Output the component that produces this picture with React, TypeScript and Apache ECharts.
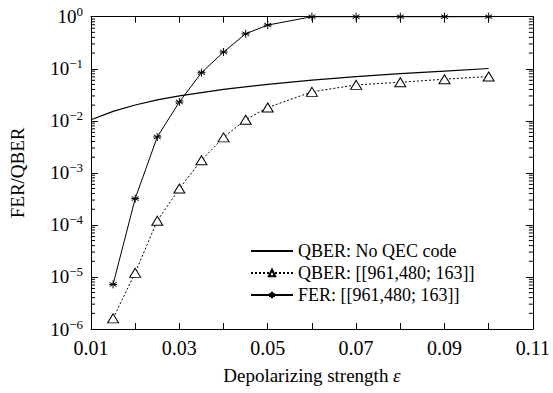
import React, { useEffect, useRef } from "react";
import * as echarts from "echarts";

const xTicks = [0.01, 0.02, 0.03, 0.04, 0.05, 0.06, 0.07, 0.08, 0.09, 0.1, 0.11];
const legendNames = ["QBER: No QEC code", "QBER: [[961,480; 163]]", "FER: [[961,480; 163]]"];

const noQecX = [0.01, 0.015, 0.02, 0.025, 0.03, 0.04, 0.05, 0.06, 0.07, 0.08, 0.09, 0.1];
const noQecY = [0.0105, 0.0152, 0.0201, 0.0252, 0.0302, 0.0402, 0.0503, 0.0603, 0.0703, 0.0803, 0.0902, 0.101];

const codeX = [0.015, 0.02, 0.025, 0.03, 0.035, 0.04, 0.045, 0.05, 0.06, 0.07, 0.08, 0.09, 0.1];
const qberCode = [1.6e-6, 1.2e-5, 1.2e-4, 5.0e-4, 1.75e-3, 4.8e-3, 0.0105, 0.018, 0.036, 0.049, 0.055, 0.063, 0.071];
const ferCode = [7.2e-6, 3.2e-4, 4.9e-3, 0.023, 0.084, 0.21, 0.47, 0.69, 1, 1, 1, 1, 1];

const yMinorTicks: number[] = [];
for (let e = -6; e < 0; e++) {
  for (let k = 2; k <= 9; k++) yMinorTicks.push(k * Math.pow(10, e));
}

const FONT = "'Liberation Serif', 'Times New Roman', serif";
const supMap: Record<string, string> = { "0": "0", "-1": "−1", "-2": "−2", "-3": "−3", "-4": "−4", "-5": "−5", "-6": "−6" };

const asterisk =
  "path://M5,0 L5,10 M0.67,2.5 L9.33,7.5 M0.67,7.5 L9.33,2.5 M0,5 L10,5";

export default function App() {
  const ref = useRef<HTMLDivElement>(null);
  useEffect(() => {
    if (!ref.current) return;
    const chart = echarts.init(ref.current, undefined, { renderer: "svg" });
    const grid = { left: 82.5, right: 14.5, top: 16.7, bottom: 64 };
    chart.setOption({
      animation: false,
      backgroundColor: "#fff",
      textStyle: { fontFamily: FONT, color: "#000" },
      grid,
      legend: {
        orient: "vertical",
        left: 245,
        top: 236,
        itemWidth: 42,
        itemHeight: 8,
        itemGap: 2,
        data: [
          { name: legendNames[0], itemStyle: { opacity: 0, color: "transparent", borderWidth: 0 } },
          { name: legendNames[1] },
          { name: legendNames[2] },
        ],
        textStyle: { fontFamily: FONT, fontSize: 18, color: "#000", lineHeight: 20 },
      },
      xAxis: [
        {
          type: "value",
          min: 0.01,
          max: 0.11,
          interval: 0.01,
          name: "Depolarizing strength {i|ε}",
          nameLocation: "middle",
          nameGap: 37,
          nameTextStyle: {
            fontFamily: FONT,
            fontSize: 19,
            color: "#000",
            rich: { i: { fontFamily: FONT, fontSize: 19, fontStyle: "italic", color: "#000" } },
          },
          axisLine: { lineStyle: { color: "#000", width: 1 } },
          axisTick: { inside: true, length: 6, lineStyle: { color: "#000" } },
          axisLabel: {
            fontFamily: FONT,
            fontSize: 20,
            color: "#000",
            margin: 9,
            formatter: (v: number) => (Math.round(v * 100) % 2 === 1 ? v.toFixed(2) : ""),
          },
          splitLine: { show: false },
        },
        {
          type: "value",
          position: "top",
          min: 0.01,
          max: 0.11,
          interval: 0.01,
          axisLine: { lineStyle: { color: "#000", width: 1 } },
          axisTick: { inside: true, length: 6, lineStyle: { color: "#000" } },
          axisLabel: { show: false },
          splitLine: { show: false },
        },
      ],
      yAxis: [
        {
          type: "log",
          logBase: 10,
          min: 1e-6,
          max: 1,
          name: "FER/QBER",
          nameLocation: "middle",
          nameGap: 64,
          nameTextStyle: { fontFamily: FONT, fontSize: 19, color: "#000" },
          axisLine: { lineStyle: { color: "#000", width: 1 } },
          axisTick: { inside: true, length: 7, lineStyle: { color: "#000" } },
          axisLabel: {
            margin: 8,
            formatter: (v: number) => {
              const e = String(Math.round(Math.log10(v)));
              return `{b|10}{s|${supMap[e] ?? e}}`;
            },
            rich: {
              b: { fontFamily: FONT, fontSize: 19, color: "#000" },
              s: { fontFamily: FONT, fontSize: 13, color: "#000", verticalAlign: "top", padding: [0, 0, 10, 0] },
            },
          },
          splitLine: { show: false },
        },
        {
          type: "log",
          logBase: 10,
          min: 1e-6,
          max: 1,
          position: "right",
          axisLine: { lineStyle: { color: "#000", width: 1 } },
          axisTick: { inside: true, length: 7, lineStyle: { color: "#000" } },
          axisLabel: { show: false },
          splitLine: { show: false },
        },
      ],
      series: [
        {
          type: "custom",
          silent: true,
          xAxisIndex: 0,
          yAxisIndex: 0,
          data: yMinorTicks.map((v) => [0.01, v]),
          renderItem: (params: any, api: any) => {
            const v = api.value(1);
            const pl = api.coord([0.01, v]);
            const pr = api.coord([0.11, v]);
            return {
              type: "group",
              children: [
                { type: "line", shape: { x1: pl[0], y1: pl[1], x2: pl[0] + 4, y2: pl[1] }, style: { stroke: "#000", lineWidth: 1 } },
                { type: "line", shape: { x1: pr[0], y1: pr[1], x2: pr[0] - 4, y2: pr[1] }, style: { stroke: "#000", lineWidth: 1 } },
              ],
            };
          },
        },
        {
          name: legendNames[0],
          type: "line",
          data: noQecX.map((x, i) => [x, noQecY[i]]),
          symbol: "none",
          lineStyle: { color: "#000", width: 1.2 },
          itemStyle: { color: "#000" },
        },
        {
          name: legendNames[1],
          type: "line",
          data: codeX.map((x, i) => [x, qberCode[i]]),
          symbol: "triangle",
          symbolSize: [11, 9],
          lineStyle: { color: "#000", width: 1, type: [2, 2] },
          itemStyle: { color: "#fff", borderColor: "#000", borderWidth: 1 },
        },
        {
          name: legendNames[2],
          type: "line",
          data: codeX.map((x, i) => [x, ferCode[i]]),
          symbol: asterisk,
          symbolSize: 8,
          clip: false,
          lineStyle: { color: "#000", width: 1 },
          itemStyle: { color: "none", borderColor: "#000", borderWidth: 1 },
        },
      ],
    });
    return () => chart.dispose();
  }, []);
  return <div ref={ref} style={{ width: 553, height: 393, position: "absolute", left: 0, top: 0 }} />;
}
